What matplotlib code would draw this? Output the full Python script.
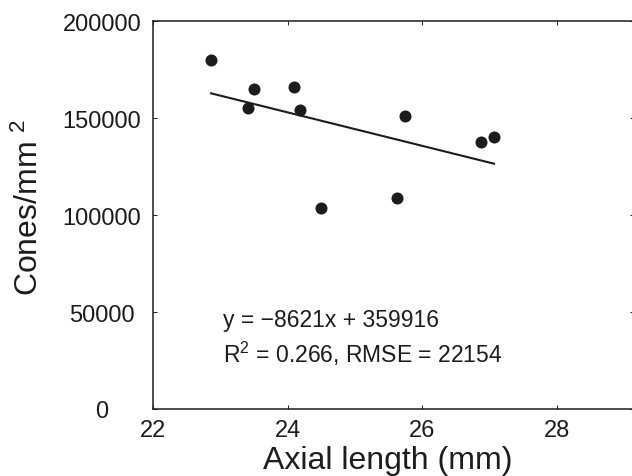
import matplotlib
matplotlib.use("Agg")
import matplotlib.pyplot as plt
import numpy as np

plt.rcParams['font.family'] = ['Liberation Sans', 'DejaVu Sans']
plt.rcParams['mathtext.fontset'] = 'custom'
plt.rcParams['mathtext.rm'] = 'Liberation Sans'
plt.rcParams['mathtext.it'] = 'Liberation Sans'

# data
axial_len = [22.86, 23.41, 23.50, 24.09, 24.18, 24.50, 25.62, 25.74, 26.87, 27.07]
cones = [180000, 155300, 164900, 166000, 154000, 103800, 109100, 151400, 137600, 140200]
slope = -8621
intercept = 359916
r2 = 0.266
rmse = 22154

xticks = [22, 24, 26, 28]
yticks = [0, 50000, 100000, 150000, 200000]

ink = '#1c1c1c'

fig = plt.figure(figsize=(6.32, 4.77), dpi=100)
# axes runs slightly past the right edge, like the cropped original
ax = fig.add_axes([153.3 / 632, 1 - 410 / 477, 480.5 / 632, (410 - 22.3) / 477])

ax.scatter(axial_len, cones, s=75, color=ink, zorder=3, linewidths=0)

# fit line over the data range
xf = np.array([min(axial_len), max(axial_len)])
ax.plot(xf, slope * xf + intercept, color=ink, lw=1.5)

ax.set_xlim(22, 29.15)
ax.set_ylim(0, 200000)
ax.set_xticks(xticks)
ax.set_yticks(yticks)
ax.tick_params(direction='in', length=2.9, width=0.7, top=True, right=True,
               labelsize=17, colors=ink)
# y labels in the original sit centred in their column
ax.tick_params(axis='y', pad=37)
for lbl in ax.get_yticklabels():
    lbl.set_horizontalalignment('center')
ax.tick_params(axis='x', pad=7)
for s in ax.spines.values():
    s.set_linewidth(1.1)
    s.set_color(ink)

ax.set_xlabel('Axial length (mm)', fontsize=23, color=ink)
ax.xaxis.set_label_coords(0.4885, -0.093)
ax.set_ylabel(r'Cones/mm $^{2}$', fontsize=23, color=ink)
ax.yaxis.set_label_coords(-0.226, 0.523)

ax.text(23.03, 42900, 'y = \u22128621x + 359916', fontsize=16.5, color=ink, va='baseline')
ax.text(23.03, 24100, r'R$^{2}$ = %.3f, RMSE = %d' % (r2, rmse), fontsize=16.5,
        color=ink, va='baseline')

fig.savefig('out.png', dpi=100)
